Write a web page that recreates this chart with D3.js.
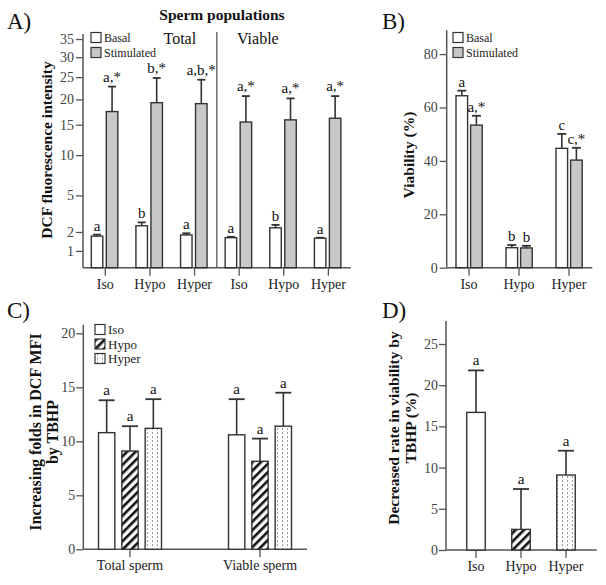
<!DOCTYPE html>
<html>
<head>
<meta charset="utf-8">
<script src="https://cdn.jsdelivr.net/npm/d3@7"></script>
<style>
  body { margin: 0; background: #fff; }
  svg { display: block; }
  text { font-family: "Liberation Serif", "Times New Roman", serif; }
</style>
</head>
<body>
<svg id="chart" width="606" height="585"></svg>
<script>
// panel A - DCF intensity, total / viable populations
const aGroups = ["Total", "Viable"];
const aCats = ["Iso", "Hypo", "Hyper"];
const aBasal = [1.75, 2.41, 1.82, 1.66, 2.27, 1.63];
const aBasalErr = [0.09, 0.24, 0.10, 0.05, 0.20, 0.03];
const aStim = [17.5, 19.3, 19.1, 15.5, 15.9, 16.2];
const aStimErr = [5.3, 5.5, 5.3, 5.2, 4.3, 4.5];
const aBasalLbl = ["a", "b", "a", "a", "b", "a"];
const aStimLbl = ["a,*", "b,*", "a,b,*", "a,*", "a,*", "a,*"];
const aTicks = [1, 2, 5, 10, 15, 20, 25, 30, 35];

// panel B - viability
const bCats = ["Iso", "Hypo", "Hyper"];
const bBasal = [64.4, 7.5, 44.7];
const bBasalErr = [1.9, 1.0, 5.4];
const bStim = [53.4, 7.4, 40.3];
const bStimErr = [3.5, 0.8, 4.6];
const bBasalLbl = ["a", "b", "c"];
const bStimLbl = ["a,*", "b", "c,*"];
const bTicks = [0, 20, 40, 60, 80];

// panel C - folds increase
const cGroups = ["Total sperm", "Viable sperm"];
const cSeries = ["Iso", "Hypo", "Hyper"];
const cTotal = [10.8, 9.1, 11.2];
const cTotalErr = [3.0, 2.3, 2.7];
const cViable = [10.6, 8.15, 11.4];
const cViableErr = [3.3, 2.1, 3.1];
const cTicks = [0, 5, 10, 15, 20];

// panel D - decreased viability
const dCats = ["Iso", "Hypo", "Hyper"];
const dVals = [16.7, 2.5, 9.1];
const dErr = [5.1, 4.9, 2.95];
const dTicks = [0, 5, 10, 15, 20, 25];

const svg = d3.select("#chart");
const axisCol = "#555";
const grey = "#c8c8c8";

const defs = svg.append("defs");
defs.append("pattern")
  .attr("id", "hatch")
  .attr("patternUnits", "userSpaceOnUse")
  .attr("width", 6).attr("height", 6)
  .attr("patternTransform", "rotate(45)")
  .call(p => {
    p.append("rect").attr("width", 6).attr("height", 6).attr("fill", "#fff");
    p.append("rect").attr("x", 0).attr("width", 2.6).attr("height", 6).attr("fill", "#111");
  });
defs.append("pattern")
  .attr("id", "dots")
  .attr("patternUnits", "userSpaceOnUse")
  .attr("width", 5).attr("height", 4)
  .call(p => {
    p.append("rect").attr("width", 5).attr("height", 4).attr("fill", "#fff");
    p.append("rect").attr("x", 2).attr("y", 0).attr("width", 1).attr("height", 2).attr("fill", "#9a9a9a");
  });
const seriesFill = { Iso: "#fff", Hypo: "url(#hatch)", Hyper: "url(#dots)" };

function yAxis(scale, x, ticks, topY, pad) {
  const g = svg.append("g").attr("transform", `translate(${x},0)`)
    .call(d3.axisLeft(scale).tickValues(ticks).tickSize(7).tickPadding(pad).tickSizeOuter(0));
  g.select(".domain").remove();
  g.selectAll("line").attr("stroke", axisCol).attr("stroke-width", 1.3);
  g.selectAll("text").attr("font-size", 14).attr("fill", "#444")
    .style("font-family", '"Liberation Serif", serif');
  svg.append("line").attr("x1", x).attr("x2", x)
    .attr("y1", scale.range()[0]).attr("y2", topY)
    .attr("stroke", axisCol).attr("stroke-width", 1.5);
}

function xAxis(scale, y, x0, x1, fmt) {
  const g = svg.append("g").attr("transform", `translate(0,${y})`)
    .call(d3.axisBottom(scale).tickSize(8).tickPadding(3).tickFormat(fmt));
  g.select(".domain").remove();
  g.selectAll("line").attr("stroke", axisCol).attr("stroke-width", 1.3);
  g.selectAll("text").attr("font-size", 14).attr("fill", "#222")
    .style("font-family", '"Liberation Serif", serif');
  svg.append("line").attr("x1", x0).attr("x2", x1).attr("y1", y).attr("y2", y)
    .attr("stroke", axisCol).attr("stroke-width", 1.5);
}

function bars(data, cls) {
  // data: {x, w, v, e, fill, lbl, cap, y, fs, gap}
  const g = svg.append("g").attr("class", cls);
  g.selectAll("line.err").data(data).join("line").attr("class", "err")
    .attr("x1", d => d.x + d.w / 2).attr("x2", d => d.x + d.w / 2)
    .attr("y1", d => d.y(d.v)).attr("y2", d => d.y(d.v + d.e))
    .attr("stroke", "#333").attr("stroke-width", 1.6);
  g.selectAll("line.cap").data(data).join("line").attr("class", "cap")
    .attr("x1", d => d.x + d.w / 2 - d.cap / 2).attr("x2", d => d.x + d.w / 2 + d.cap / 2)
    .attr("y1", d => d.y(d.v + d.e)).attr("y2", d => d.y(d.v + d.e))
    .attr("stroke", "#333").attr("stroke-width", 1.8);
  g.selectAll("rect").data(data).join("rect")
    .attr("x", d => d.x).attr("width", d => d.w)
    .attr("y", d => d.y(d.v)).attr("height", d => d.y.range()[0] - d.y(d.v))
    .attr("fill", d => d.fill).attr("stroke", "#333").attr("stroke-width", 1.4);
  g.selectAll("text").data(data).join("text")
    .attr("x", d => d.x + d.w / 2).attr("y", d => d.y(d.v + d.e) - d.gap)
    .attr("text-anchor", "middle").attr("font-size", d => d.fs).attr("fill", "#111")
    .text(d => d.lbl);
}

function legend(x, y, items, step, fs) {
  const g = svg.append("g").attr("transform", `translate(${x},${y})`);
  const it = g.selectAll("g").data(items).join("g")
    .attr("transform", (d, i) => `translate(0,${i * step})`);
  it.append("rect").attr("width", 10).attr("height", 10)
    .attr("fill", d => d.fill).attr("stroke", "#333").attr("stroke-width", 1.2);
  it.append("text").attr("x", 13).attr("y", 9.5).attr("font-size", fs).attr("fill", "#222")
    .text(d => d.name);
}

function yLabel(lines, cx, cy, fs, lh) {
  const t = svg.append("text")
    .attr("transform", `translate(${cx},${cy}) rotate(-90)`)
    .attr("text-anchor", "middle").attr("font-size", fs).attr("font-weight", "bold").attr("fill", "#111");
  lines.forEach((l, i) => t.append("tspan").attr("x", 0).attr("y", i * lh).text(l));
}

function panelLabel(txt, x, y) {
  svg.append("text").attr("x", x).attr("y", y).attr("font-size", 23).attr("fill", "#111").text(txt);
}

// ---------- A ----------
const yA = d3.scalePow().exponent(0.47).domain([0.41, 35]).range([267.7, 39]);
const xA = d3.scaleBand().domain(d3.range(6)).range([83, 350.7]);
const cA = i => xA(i) + xA.bandwidth() / 2;
const sepX = (cA(2) + cA(3)) / 2;
yAxis(yA, 83, aTicks, 34, 2);
xAxis(xA, 267.7, 83, 350.7, i => aCats[i % 3]);
svg.append("line").attr("x1", sepX).attr("x2", sepX)
  .attr("y1", 32).attr("y2", 267.7).attr("stroke", axisCol).attr("stroke-width", 1.3);
bars(aBasal.map((v, i) => ({ x: cA(i) - 14, w: 11.5, v, e: aBasalErr[i], fill: "#fff",
  lbl: aBasalLbl[i], cap: 8, y: yA, fs: 15, gap: 4 })), "a-basal");
bars(aStim.map((v, i) => ({ x: cA(i) + 1, w: 11.5, v, e: aStimErr[i], fill: grey,
  lbl: aStimLbl[i], cap: 8, y: yA, fs: 15, gap: 5 })), "a-stim");
legend(91, 32.5, [{ name: "Basal", fill: "#fff" }, { name: "Stimulated", fill: grey }], 15, 12);
svg.append("text").attr("x", 222).attr("y", 20).attr("text-anchor", "middle")
  .attr("font-size", 15.5).attr("font-weight", "bold").attr("fill", "#111").text("Sperm populations");
aGroups.forEach((g, k) => {
  svg.append("text").attr("x", sepX + (k === 0 ? -37 : 41)).attr("y", 44)
    .attr("text-anchor", "middle").attr("font-size", 16).attr("fill", "#111").text(g);
});
yLabel(["DCF fluorescence intensity"], 52, 150, 15.5, 0);
panelLabel("A)", 7, 29);

// ---------- B ----------
const yB = d3.scaleLinear().domain([0, 89]).range([267.7, 267.7 - 89 * 2.67]);
const xB = d3.scaleBand().domain(bCats).range([444, 594]);
const cB = c => xB(c) + xB.bandwidth() / 2;
yAxis(yB, 446.7, bTicks, yB(89), 2);
xAxis(xB, 267.7, 446.7, 592.3, d => d);
bars(bBasal.map((v, i) => ({ x: cB(bCats[i]) - 13, w: 11.6, v, e: bBasalErr[i], fill: "#fff",
  lbl: bBasalLbl[i], cap: 9, y: yB, fs: 15, gap: 4 })), "b-basal");
bars(bStim.map((v, i) => ({ x: cB(bCats[i]) + 1.6, w: 11.6, v, e: bStimErr[i], fill: grey,
  lbl: bStimLbl[i], cap: 9, y: yB, fs: 15, gap: 4 })), "b-stim");
legend(453, 32.5, [{ name: "Basal", fill: "#fff" }, { name: "Stimulated", fill: grey }], 15, 12);
yLabel(["Viability (%)"], 414, 155, 15.5, 0);
panelLabel("B)", 382, 29);

// ---------- C ----------
const yC = d3.scaleLinear().domain([0, 20.8]).range([549.3, 549.3 - 20.8 * 10.8]);
const xC = d3.scaleBand().domain(cGroups).range([65, 325]);
const xC2 = d3.scaleBand().domain(cSeries).range([-35, 35]).paddingInner(0.3).paddingOuter(0.15);
yAxis(yC, 83.3, cTicks, yC(20.8), 1);
xAxis(xC, 549.3, 83.3, 307, d => d);
const cRows = [cTotal, cViable];
const cErrs = [cTotalErr, cViableErr];
cGroups.forEach((g, k) => {
  const cx = xC(g) + xC.bandwidth() / 2;
  bars(cRows[k].map((v, i) => ({ x: cx + xC2(cSeries[i]), w: xC2.bandwidth(), v, e: cErrs[k][i],
    fill: seriesFill[cSeries[i]], lbl: "a", cap: 16, y: yC, fs: 15, gap: 5 })), "c-" + k);
});
legend(95, 324.5, cSeries.map(s => ({ name: s, fill: seriesFill[s] })), 14.5, 13);
yLabel(["Increasing folds in DCF MFI", "by TBHP"], 41, 432, 16, 17);
panelLabel("C)", 7, 318);

// ---------- D ----------
const yD = d3.scaleLinear().domain([0, 27.8]).range([550, 550 - 27.8 * 8.24]);
const xD = d3.scaleBand().domain(dCats).range([453.5, 588.5]);
yAxis(yD, 446, dTicks, yD(27.8), 1);
xAxis(xD, 550, 446, 596.7, d => d);
bars(dVals.map((v, i) => ({ x: xD(dCats[i]) + xD.bandwidth() / 2 - 9.25, w: 18.5, v, e: dErr[i],
  fill: seriesFill[dCats[i]], lbl: "a", cap: 16, y: yD, fs: 15, gap: 5 })), "d");
yLabel(["Decreased rate in viability by", "TBHP (%)"], 399, 428, 15.5, 17);
panelLabel("D)", 382, 318);
</script>
</body>
</html>
